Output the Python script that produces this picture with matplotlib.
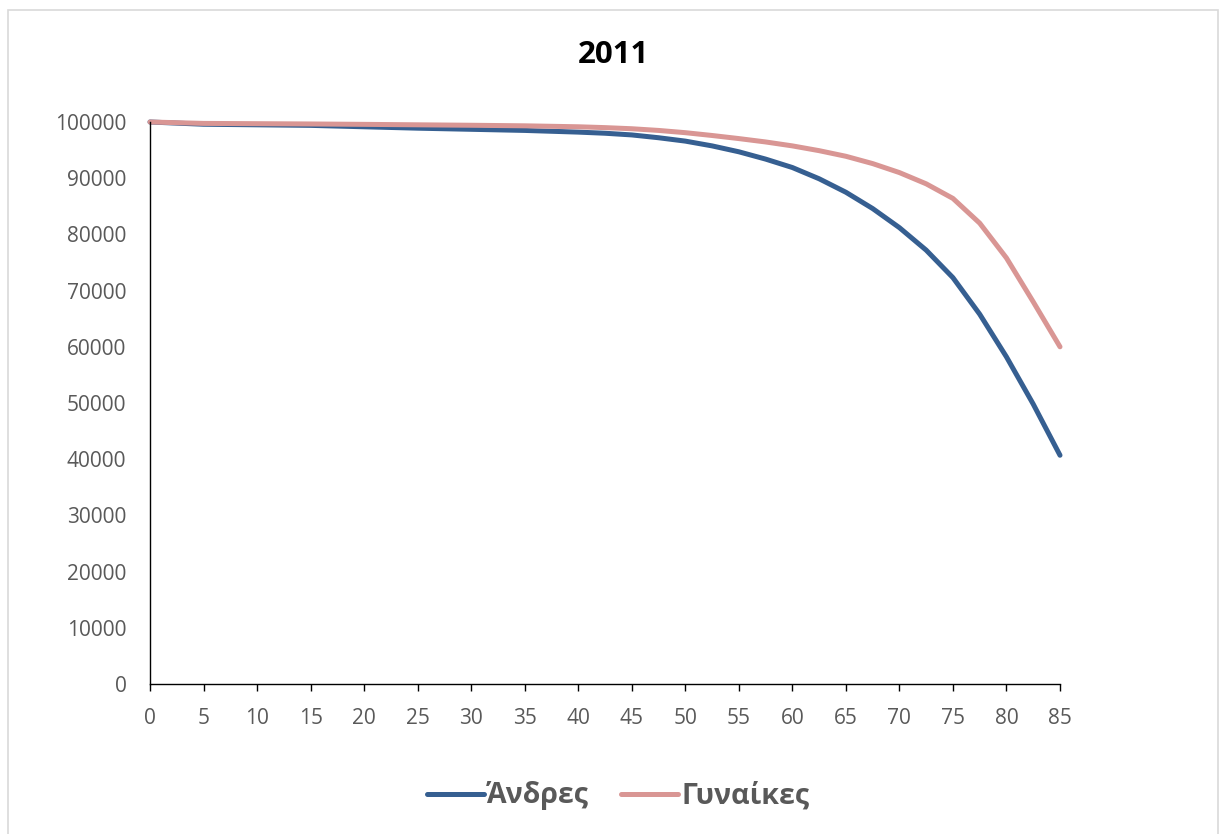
import matplotlib
matplotlib.use("Agg")
import matplotlib.pyplot as plt
from matplotlib.patches import Rectangle

plt.rcParams['font.family'] = ['Open Sans', 'DejaVu Sans']

# survivors by age (life table, 2011)
ages = [0, 5, 10, 15, 20, 25, 30, 35, 40, 42.5, 45, 47.5, 50, 52.5, 55, 57.5,
        60, 62.5, 65, 67.5, 70, 72.5, 75, 77.5, 80, 82.5, 85]
men = [100000, 99600, 99500, 99400, 99150, 98900, 98700, 98500, 98200, 98000,
       97700, 97200, 96600, 95750, 94700, 93400, 91900, 89900, 87500, 84600,
       81200, 77200, 72300, 65800, 58200, 49800, 40700]
women = [100000, 99750, 99700, 99650, 99580, 99500, 99420, 99320, 99150, 99000,
         98800, 98500, 98100, 97600, 97050, 96450, 95750, 94900, 93900, 92600,
         91000, 89000, 86400, 82000, 75800, 68000, 60000]

labels = ['Άνδρες', 'Γυναίκες']
colors = ['#365F91', '#D99694']
xticks = list(range(0, 86, 5))
yticks = list(range(0, 100001, 10000))

fig = plt.figure(figsize=(12.21, 8.34), dpi=100)
ax = fig.add_axes([150 / 1221, 1 - 684 / 834, 910 / 1221, 562 / 834])

for vals, lab, col in zip([men, women], labels, colors):
    ax.plot(ages, vals, color=col, lw=3.6, label=lab,
            solid_capstyle='round', solid_joinstyle='round', clip_on=False)

ax.set_xlim(0, 85)
ax.set_ylim(0, 100000)
ax.set_xticks(xticks)
ax.set_yticks(yticks)

for side in ['top', 'right']:
    ax.spines[side].set_visible(False)
for side in ['left', 'bottom']:
    ax.spines[side].set_color('black')
    ax.spines[side].set_linewidth(1.0)

ax.tick_params(axis='x', direction='out', length=5, width=1.0, color='black',
               pad=12, labelsize=15, labelcolor='#595959')
ax.tick_params(axis='y', length=0, pad=17, labelsize=15, labelcolor='#595959')

fig.text(0.5 + 3 / 1221, 1 - 55 / 834, '2011', ha='center', va='center',
         fontsize=22.5, fontweight='bold', color='black')

leg = fig.legend(loc='center', bbox_to_anchor=(618 / 1221, 1 - 796 / 834),
                 ncol=2, frameon=False, handlelength=2.0, handletextpad=0.1,
                 columnspacing=1.15, prop={'size': 20.5, 'weight': 'bold'})
for t in leg.get_texts():
    t.set_color('#595959')

# light outer frame like the chart area border
fig.patches.append(Rectangle((8 / 1221, -0.02), 1210 / 1221, 1.02 - 10 / 834,
                             transform=fig.transFigure, fill=False,
                             edgecolor='#D9D9D9', lw=1.2))

fig.savefig('out.png', dpi=100)
